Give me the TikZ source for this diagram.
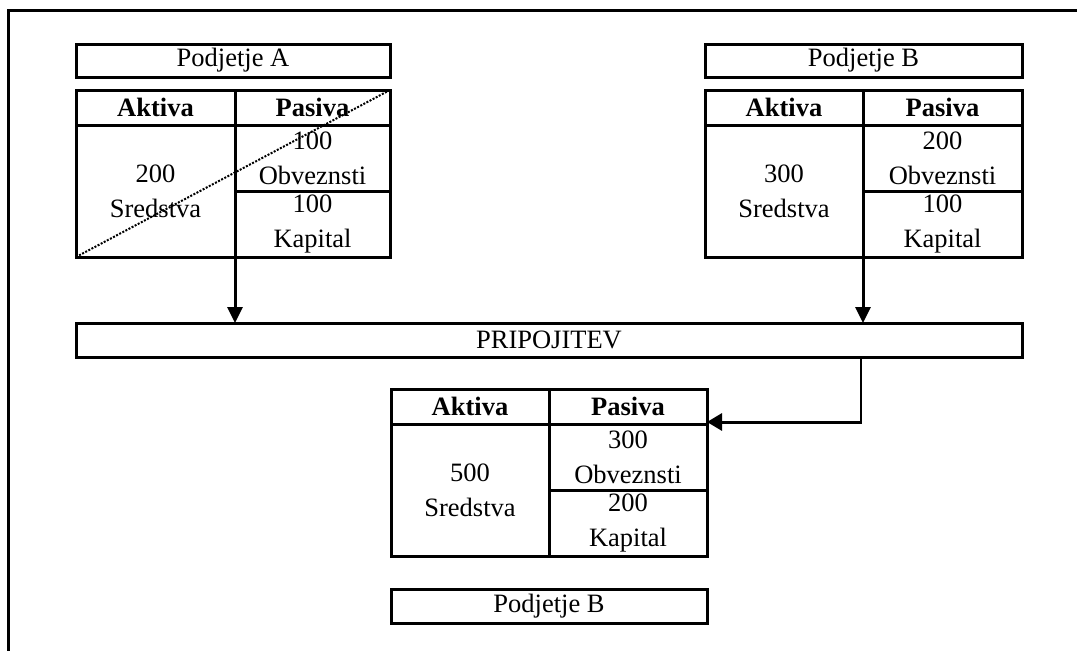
\documentclass[tikz,border=0pt]{standalone}
\usepackage{fontspec}
\setmainfont{Liberation Serif}
\usetikzlibrary{arrows.meta}
\newcommand\cellfont{\fontsize{26.5}{35}\selectfont}
\tikzset{
  cell/.style={draw, line width=3pt, inner sep=0pt, outer sep=0pt,
               anchor=north west, align=center, font=\cellfont},
  head/.style={cell, font=\cellfont\bfseries},
  flow/.style={line width=3pt, -{Triangle[length=16pt,width=15pt]}},
  frame/.style={line width=3pt},
}
\begin{document}
\begin{tikzpicture}[x=1pt,y=-1pt]
  \useasboundingbox (0,0) rectangle (1077,651);
  % outer frame
  \draw[frame] (8,651) -- (8,10) -- (1077,10);

  % company A
  \node[cell, minimum width=314pt, minimum height=33pt] (pa) at (76,44) {Podjetje A};
  \node[head, minimum width=159pt, minimum height=35pt] (aAH) at (76,90) {Aktiva};
  \node[head, minimum width=155pt, minimum height=35pt] (aPH) at (235,90) {Pasiva};
  \node[cell, minimum width=159pt, minimum height=132pt] (aAB) at (76,125) {200\\Sredstva};
  \node[cell, minimum width=155pt, minimum height=66pt] (aPU) at (235,125) {100\\Obveznsti};
  \node[cell, minimum width=155pt, minimum height=66pt] (aPL) at (235,191) {100\\Kapital};
  \draw[line width=2pt, dash pattern=on 2pt off 1.5pt] (aAB.south west) -- (aPH.north east);

  % company B
  \node[cell, minimum width=317pt, minimum height=33pt] (pb) at (705,44) {Podjetje B};
  \node[head, minimum width=158pt, minimum height=35pt] (bAH) at (705,90) {Aktiva};
  \node[head, minimum width=159pt, minimum height=35pt] (bPH) at (863,90) {Pasiva};
  \node[cell, minimum width=158pt, minimum height=132pt] (bAB) at (705,125) {300\\Sredstva};
  \node[cell, minimum width=159pt, minimum height=66pt] (bPU) at (863,125) {200\\Obveznsti};
  \node[cell, minimum width=159pt, minimum height=66pt] (bPL) at (863,191) {100\\Kapital};

  % merger bar
  \node[cell, minimum width=946pt, minimum height=34pt] (prip) at (76,323) {PRIPOJITEV};

  % merged company
  \node[head, minimum width=158pt, minimum height=35pt] (cAH) at (391,389) {Aktiva};
  \node[head, minimum width=158pt, minimum height=35pt] (cPH) at (549,389) {Pasiva};
  \node[cell, minimum width=158pt, minimum height=132pt] (cAB) at (391,424) {500\\Sredstva};
  \node[cell, minimum width=158pt, minimum height=66pt] (cPU) at (549,424) {300\\Obveznsti};
  \node[cell, minimum width=158pt, minimum height=66pt] (cPL) at (549,490) {200\\Kapital};
  \node[cell, minimum width=316pt, minimum height=34pt] (pc) at (391,589) {Podjetje B};

  % connectors
  \draw[flow] (aAB.south east) -- (aAB.south east |- prip.north);
  \draw[flow] (bAB.south east) -- (bAB.south east |- prip.north);
  \coordinate (bend) at (861,422);
  \draw[line width=1.5pt] (bend |- prip.south) -- (bend);
  \draw[flow, -{Triangle[length=15pt,width=17pt]}] ([xshift=0.75pt]bend) -- (bend -| cPH.east);
\end{tikzpicture}
\end{document}
